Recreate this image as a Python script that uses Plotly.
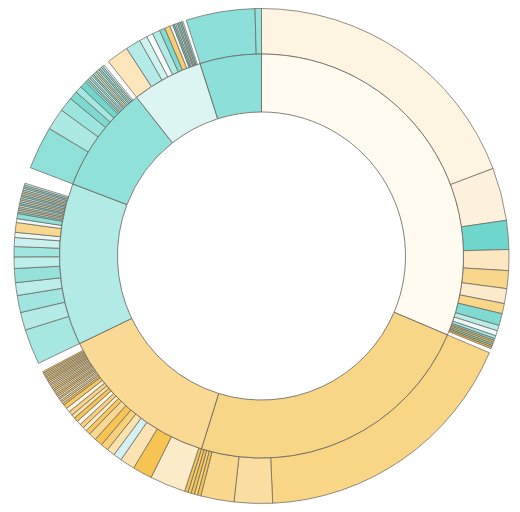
import plotly.graph_objects as go

# ---------------- inner ring (parents) ----------------
inner_names = ["A", "B", "C", "D", "E", "F", "G"]
inner_values = [113, 84.3, 47, 46.6, 30.9, 20.5, 17.7]
inner_colors = ["#FFFBF1", "#F8D688", "#F9D994", "#B2EBE6", "#8FE1DA", "#DCF5F3", "#8CE0D9"]

GAP = "rgba(0,0,0,0)"

# ---------------- outer ring (children), per parent ----------------
outer_a_values = [69.3, 12.4, 6.8, 4.9, 4.2, 3.5, 2.4, 2.8, 1.3, 1.2, 0.7,
                  0.45, 0.4, 0.4, 0.45, 0.4, 0.4, 1.0]
outer_a_colors = ["#FDF4E2", "#FDF1DD", "#6ED6CC", "#FBE8C2", "#F8D68B", "#FBEBCC", "#F9D68A",
                  "#7FDAD2", "#B8ECE7", "#EEFAF9", "#A9E8E2",
                  "#7FDAD2", "#F6C757", "#F9D68A", "#6ED6CC", "#F1BC44", "#E9C16A", GAP]

outer_b_values = [64.4, 9.0, 7.8, 0.8, 0.75, 0.8, 0.75]
outer_b_colors = ["#F8D686", "#FADDA0", "#F9D78D", "#F5C654", "#F8D27C", "#F4C34E", "#F7CE70"]

outer_c_values = [0.8, 8.4, 4.6, 3.5, 2.0,
                  1.9, 1.8, 1.9, 1.8,
                  1.1, 1.0, 1.0, 1.0, 1.0, 0.9, 1.0, 1.0, 1.0,
                  0.45, 0.42, 0.4, 0.42, 0.38, 0.4, 0.38, 0.4, 0.36, 0.4, 0.38, 0.36,
                  0.4, 0.36, 0.38, 0.36, 0.38, 0.36, 0.34, 0.38, 0.36, 0.34, 0.36, 0.37,
                  2.16]
outer_c_colors = ["#F5C654", "#FCEBC8", "#F5C452", "#FBE3B2", "#D3F1F3",
                  "#FBE2AE", "#F8D17A", "#F5C452", "#F9D893",
                  "#F6C85E", "#FCE9C6", "#F8D07A", "#FEF5E5", "#F5C452", "#FBE1AC", "#F8D385", "#FEF3E0", "#F6C962",
                  "#F5C452", "#FBE3B2", "#F8D27F", "#FEF4E2", "#F6C860", "#FCE8C4", "#F8D48A", "#F5C452",
                  "#FEF6E8", "#F9D993", "#F5C452", "#FBE3B2", "#F8D27F", "#FEF4E2", "#F6C860", "#FCE8C4",
                  "#F8D48A", "#F5C452", "#FBE3B2", "#F8D27F", "#F6C860", "#FCE8C4", "#F8D48A", "#F5C452",
                  GAP]

outer_d_values = [8.3, 4.2, 4.0, 3.0, 3.3, 2.7, 2.4, 2.1, 1.2, 2.3, 0.9, 1.2,
                  0.4, 0.4, 0.4, 0.4, 0.4, 0.4, 0.4, 0.4, 0.4, 0.4, 0.4, 0.4, 0.4, 0.4, 0.4, 0.4, 0.4, 0.4,
                  3.8]
outer_d_colors = ["#A6E7E1", "#B4EBE6", "#A0E5DF", "#BDEDE9", "#96E2DB", "#BCEEEA", "#A0E5DF",
                  "#CBF1EE", "#E8F8F7", "#F8D88E", "#F0FAF9", "#8DDFD8",
                  "#8EDFD8", "#C6EFEB", "#F7D68A", "#A6E7E1", "#E9F8F6", "#79D9CF", "#B8ECE7", "#F9DFA8",
                  "#9CE3DD", "#D5F4F1", "#83DCD4", "#C0EEEA", "#F3D284", "#A9E8E2", "#E2F7F5", "#8FE0D9",
                  "#B5EBE6", "#D0F2EF",
                  GAP]

outer_e_values = [10.1, 5.1, 3.4, 2.0, 1.6, 1.6,
                  0.45, 0.43, 0.42, 0.42, 0.41, 0.41, 0.41, 0.41, 0.41, 0.41, 0.41, 0.41, 0.4, 0.4,
                  1.3]
outer_e_colors = ["#8EE0D9", "#ACE9E3", "#9CE4DE", "#7ED9D1", "#A4E7E1", "#6FD6CC",
                  "#A6E7E1", "#7FDAD2", "#C4EFEB", "#93E1DA", "#EAF9F7", "#6FD6CC", "#B7ECE7",
                  "#F8DCA0", "#8CDFD8", "#D2F3F0", "#79D8CF", "#BFEEEA", "#9FE5DF", "#E0F6F4",
                  GAP]

outer_f_values = [5.2, 3.5, 1.9, 1.5, 1.8, 1.3, 1.3, 0.7,
                  0.38, 0.36, 0.36, 0.35, 0.35, 0.35, 0.35,
                  0.8]
outer_f_colors = ["#FCE6BC", "#B5EBE6", "#CDF2EF", "#F3FBFA", "#B0EAE4", "#7FDAD2", "#F7CF72", "#F5FBFB",
                  "#6FD6CC", "#A6E7E1", "#F0FAF9", "#7FDAD2", "#C8F0EC", "#8CDFD8", "#B5EBE6",
                  GAP]

outer_g_values = [16.2, 1.5]
outer_g_colors = ["#8CE0D9", "#94E2DB"]

outer_values = (outer_a_values + outer_b_values + outer_c_values + outer_d_values
                + outer_e_values + outer_f_values + outer_g_values)
outer_colors = (outer_a_colors + outer_b_colors + outer_c_colors + outer_d_colors
                + outer_e_colors + outer_f_colors + outer_g_colors)
outer_labels = ["o%d" % i for i in range(len(outer_values))]
outer_line_w = [0 if c == GAP else 0.7 for c in outer_colors]

LINE = "#66625a"

fig = go.Figure()
fig.add_trace(go.Pie(
    labels=outer_labels, values=outer_values, sort=False, direction="clockwise", rotation=0,
    hole=0.816, textinfo="none", hoverinfo="label+value", showlegend=False,
    marker=dict(colors=outer_colors, line=dict(color=LINE, width=outer_line_w)),
    domain=dict(x=[0, 1], y=[0, 1]),
))
fig.add_trace(go.Pie(
    labels=inner_names, values=inner_values, sort=False, direction="clockwise", rotation=0,
    hole=0.713, textinfo="none", hoverinfo="label+value", showlegend=False,
    marker=dict(colors=inner_colors, line=dict(color=LINE, width=0.8)),
    domain=dict(x=[0.09192, 0.90808], y=[0.09274, 0.90726]),
))
fig.update_layout(
    width=520, height=512,
    margin=dict(l=6, r=19, t=0, b=16),
    paper_bgcolor="white", plot_bgcolor="white",
    showlegend=False,
)
fig.write_html("out.html")
